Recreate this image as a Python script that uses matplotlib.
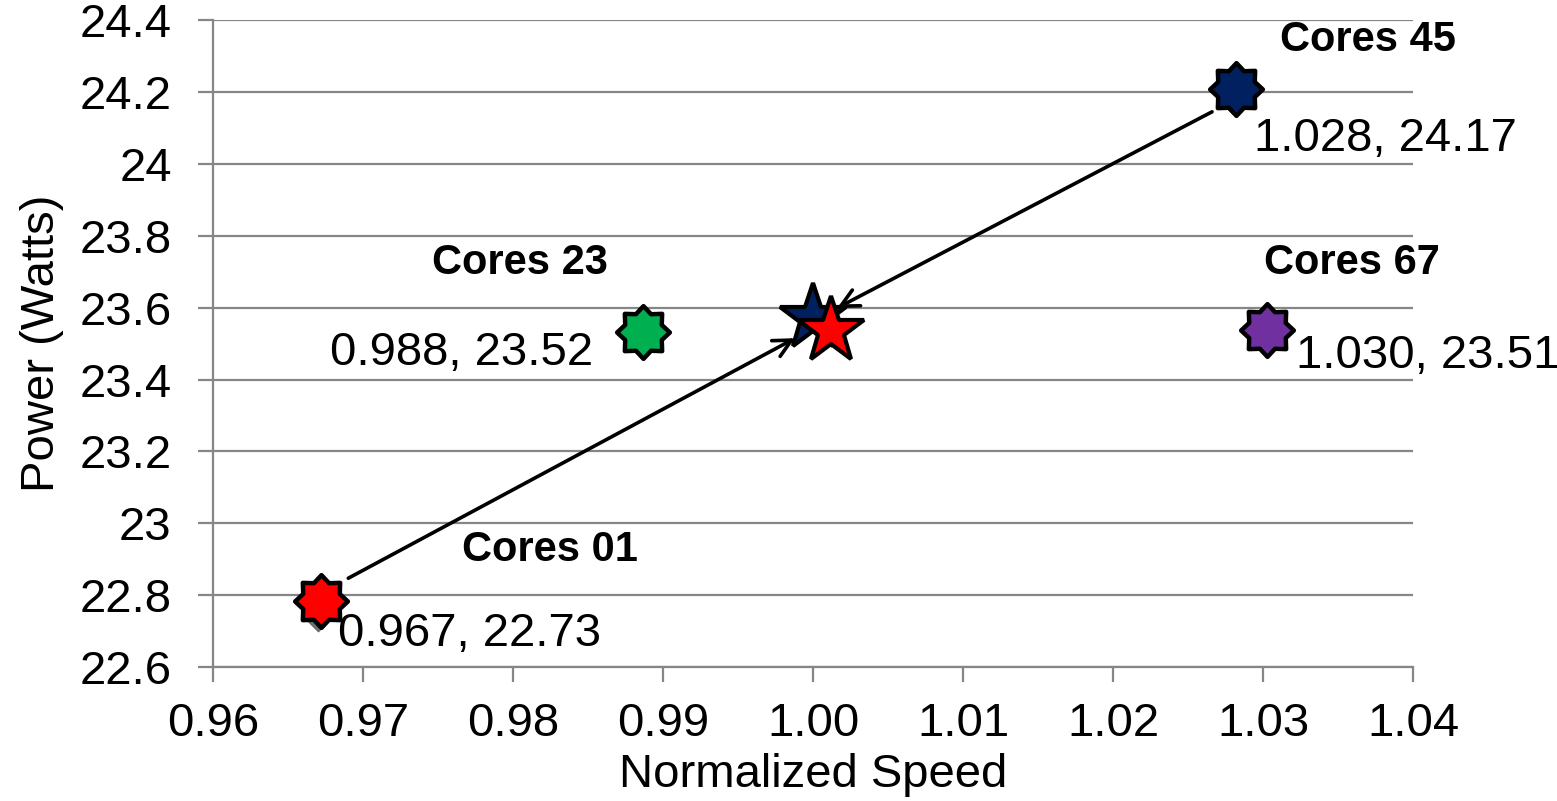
import numpy as np
import matplotlib
matplotlib.use("Agg")
import matplotlib.pyplot as plt
from matplotlib.path import Path
from matplotlib import transforms

plt.rcParams['font.family'] = ['Liberation Sans', 'DejaVu Sans']

# core pair runs: normalized speed vs power
names = ['Cores 01', 'Cores 23', 'Cores 45', 'Cores 67']
speed = [0.967, 0.988, 1.028, 1.030]
power = [22.73, 23.52, 24.17, 23.51]
colors = ['#ff0000', '#00b050', '#002060', '#7030a0']

# baseline runs (all cores) shown as 5-point stars
base_speed = [1.000, 1.0012]
base_power = [23.57, 23.535]
base_colors = ['#002060', '#ff0000']

# arrows: (start speed, start power) -> (end speed, end power)
arrow_from = [(0.9690, 22.847), (1.0266, 24.145)]
arrow_to = [(0.9988, 23.515), (1.0016, 23.599)]

xticks = [0.96, 0.97, 0.98, 0.99, 1.00, 1.01, 1.02, 1.03, 1.04]
xticklabels = ['0.96', '0.97', '0.98', '0.99', '1.00', '1.01', '1.02', '1.03', '1.04']
yticks = [22.6, 22.8, 23.0, 23.2, 23.4, 23.6, 23.8, 24.0, 24.2, 24.4]
yticklabels = ['22.6', '22.8', '23', '23.2', '23.4', '23.6', '23.8', '24', '24.2', '24.4']


def star_path(n, inner):
    ang = np.pi / 2 + np.arange(2 * n) * np.pi / n
    r = np.where(np.arange(2 * n) % 2 == 0, 1.0, inner)
    verts = np.column_stack([r * np.cos(ang), r * np.sin(ang)])
    verts = np.vstack([verts, verts[:1]])
    codes = [Path.MOVETO] + [Path.LINETO] * (2 * n - 1) + [Path.CLOSEPOLY]
    return Path(verts, codes)


star8 = star_path(8, 0.75)

fig = plt.figure(figsize=(15.57, 8.01), dpi=100)
ax = fig.add_axes([0.137, 0.1673, 0.7705, 0.8075])
ax.set_xlim(0.96, 1.04)
ax.set_ylim(22.6, 24.4)

grey = '#868686'
ax.set_yticks(yticks)
ax.set_yticklabels(yticklabels)
ax.set_xticks(xticks)
ax.set_xticklabels(xticklabels)
ax.yaxis.grid(True, color=grey, linewidth=1.6)
ax.set_axisbelow(True)
for s in ['top', 'right']:
    ax.spines[s].set_visible(False)
for s in ['left', 'bottom']:
    ax.spines[s].set_color(grey)
    ax.spines[s].set_linewidth(1.6)
ax.tick_params(axis='both', colors=grey, width=1.6, length=11, labelsize=34,
               labelcolor='black')
ax.tick_params(axis='x', pad=14)
ax.tick_params(axis='y', pad=19)

ax.set_xlabel('Normalized Speed', fontsize=34, labelpad=5)
ax.set_ylabel('Power (Watts)', fontsize=34, labelpad=11)

# small grey diamonds at the measured points
ax.scatter(speed, power, marker='D', s=130, color='#6e6e6e', zorder=3)

# star markers nudged slightly up/right of the measured point (pixels)
nudges = [(3, -19), (10, -4), (3, -14), (4, -10)]
for x, y, c, (dx, dy) in zip(speed, power, colors, nudges):
    tr = ax.transData + transforms.Affine2D().translate(dx, -dy)
    ax.plot([x], [y], marker=star8, markersize=38, color=c,
            markeredgecolor='black', markeredgewidth=3.2,
            linestyle='none', transform=tr, zorder=4)

for x, y, c in zip(base_speed, base_power, base_colors):
    ax.plot([x], [y], marker='*', markersize=50, color=c,
            markeredgecolor='black', markeredgewidth=3,
            linestyle='none', zorder=5)

for (x0, y0), (x1, y1) in zip(arrow_from, arrow_to):
    ax.annotate('', xy=(x1, y1), xytext=(x0, y0),
                arrowprops=dict(arrowstyle='->', color='black', lw=2.6,
                                mutation_scale=32, shrinkA=0, shrinkB=0),
                zorder=6)

# value labels
label_pos = [((14, 6), 'left', 'top'),
             ((-29, 4), 'right', 'top'),
             ((15, -10), 'left', 'top'),
             ((24, 4), 'left', 'top')]
for x, y, (off, ha, va) in zip(speed, power, label_pos):
    ax.annotate('%.3f, %.2f' % (x, y), xy=(x, y), xytext=off,
                textcoords='offset points', ha=ha, va=va, fontsize=34,
                zorder=7)

# name labels
name_pos = [(0.98245, 22.925), (0.98045, 23.724), (1.0370, 24.345), (1.0359, 23.724)]
for n, (x, y) in zip(names, name_pos):
    ax.text(x, y, n, fontsize=30, fontweight='bold', ha='center', va='center',
            zorder=7)

fig.savefig('out.png', dpi=100)
